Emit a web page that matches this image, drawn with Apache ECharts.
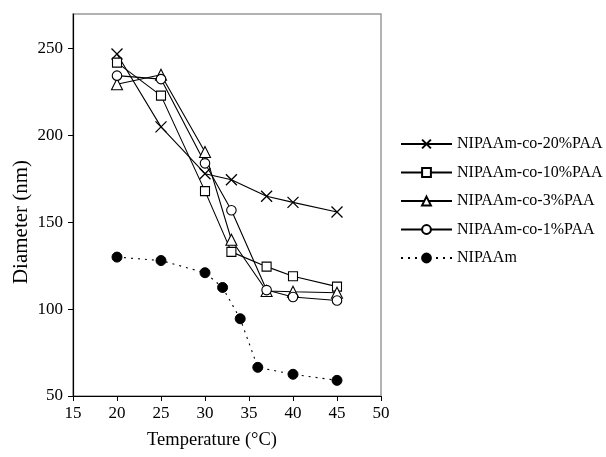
<!DOCTYPE html>
<html><head><meta charset="utf-8">
<script src="https://cdn.jsdelivr.net/npm/echarts@6/dist/echarts.min.js"></script>
<style>html,body{margin:0;padding:0;background:#fff}#c{width:606px;height:457px}</style>
</head><body><div id="c"></div>
<script>
var temps20 = [20, 25, 30, 33, 37, 40, 45];
var tempsN = [20, 25, 30, 32, 34, 36, 40, 45];
var paa20 = [247, 205, 178, 174.5, 165, 161.5, 156];
var paa10 = [242, 223, 168, 133, 124.5, 119, 113];
var paa3 = [229.5, 235, 190.5, 140, 110.5, 110, 109.5];
var paa1 = [234.5, 232.5, 184, 157, 111, 107, 105];
var nipaam = [130, 128, 121, 112.5, 94.5, 66.5, 62.5, 59];
var xTicks = [15, 20, 25, 30, 35, 40, 45, 50];
var yTicks = [50, 100, 150, 200, 250];
var xTitle = 'Temperature (°C)';
var yTitle = 'Diameter (nm)';

function pairs(xs, ys) { return xs.map(function (x, i) { return [x, ys[i]]; }); }
var font = 'Liberation Serif';
var cross = 'path://M0,0L10,10M10,0L0,10';
function solid(name, data, symbol, size) {
  return {
    name: name, type: 'line', data: data, symbol: symbol, symbolSize: size,
    lineStyle: { color: '#000', width: 1.1, type: 'solid' },
    itemStyle: { color: '#fff', borderColor: '#000', borderWidth: 1.1 },
    emphasis: { disabled: true }, animation: false, z: 3
  };
}
var series = [
  solid('NIPAAm-co-20%PAA', pairs(temps20, paa20), cross, 11),
  solid('NIPAAm-co-10%PAA', pairs(temps20, paa10), 'rect', 9),
  solid('NIPAAm-co-3%PAA', pairs(temps20, paa3), 'triangle', 11),
  solid('NIPAAm-co-1%PAA', pairs(temps20, paa1), 'circle', 9.5),
  {
    name: 'NIPAAm', type: 'line', data: pairs(tempsN, nipaam), symbol: 'circle', symbolSize: 10,
    lineStyle: { color: '#000', width: 1.1, type: [2, 5] },
    itemStyle: { color: '#000', borderColor: '#000', borderWidth: 1 },
    emphasis: { disabled: true }, animation: false, z: 3
  }
];
series[0].itemStyle = { color: 'none', borderColor: '#000', borderWidth: 1.3 };

var chart = echarts.init(document.getElementById('c'));
chart.setOption({
  animation: false,
  backgroundColor: '#fff',
  grid: { left: 73, right: 225, top: 14, bottom: 61, show: true, borderColor: '#999', borderWidth: 1.5, backgroundColor: 'transparent' },
  legend: {
    orient: 'vertical', left: 400, top: 136, padding: 0, itemWidth: 51, itemHeight: 11, itemGap: 12.5,
    textStyle: { fontFamily: font, fontSize: 16, color: '#000', lineHeight: 15 },
    data: series.map(function (s) { return s.name; })
  },
  graphic: [
    { type: 'text', x: 212, y: 440, style: { text: xTitle, font: '18.5px "Liberation Serif"', fill: '#000', align: 'center', verticalAlign: 'middle' } },
    { type: 'text', x: 21, y: 222, rotation: Math.PI / 2, style: { text: yTitle, font: '21px "Liberation Serif"', fill: '#000', align: 'center', verticalAlign: 'middle' } }
  ],
  xAxis: {
    type: 'value', min: xTicks[0], max: xTicks[xTicks.length - 1], interval: 5,
    axisLine: { lineStyle: { color: '#000', width: 1.2 } },
    axisTick: { show: true, length: 5, lineStyle: { color: '#000' } },
    axisLabel: { fontFamily: font, fontSize: 17, color: '#000', margin: 9 },
    splitLine: { show: false }
  },
  yAxis: {
    type: 'value', min: yTicks[0], max: 270, interval: 50,
    axisLine: { show: true, lineStyle: { color: '#000', width: 1.2 } },
    axisTick: { show: true, length: 5, lineStyle: { color: '#000' } },
    axisLabel: { fontFamily: font, fontSize: 17, color: '#000', margin: 10, showMaxLabel: false },
    splitLine: { show: false }
  },
  series: series
});
</script></body></html>
